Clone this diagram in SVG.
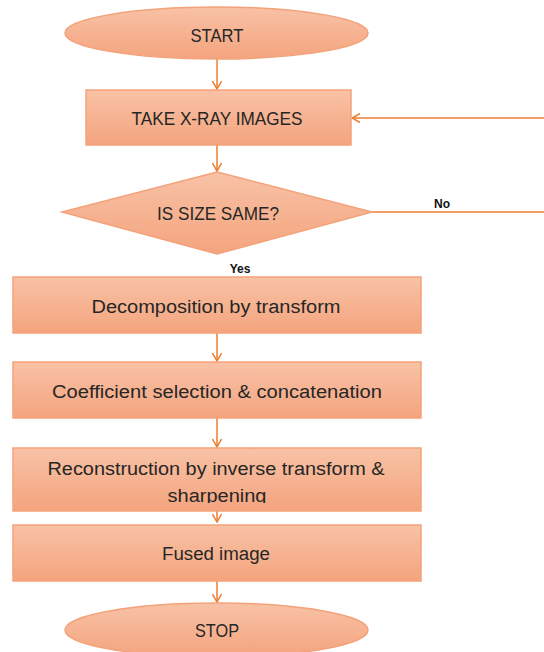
<svg xmlns="http://www.w3.org/2000/svg" width="544" height="652" viewBox="0 0 544 652">
<defs>
<linearGradient id="g" x1="0" y1="0" x2="0" y2="1">
<stop offset="0" stop-color="#F8C2A6"/>
<stop offset="1" stop-color="#F4A47E"/>
</linearGradient>
<marker id="ah" markerWidth="10" markerHeight="10" refX="9" refY="5" orient="auto" markerUnits="userSpaceOnUse">
<path d="M1,0.5 L9,5 L1,9.5" fill="none" stroke="#ED7D31" stroke-width="1.5"/>
</marker>
<clipPath id="c3"><rect x="13" y="448" width="408" height="55"/></clipPath>
</defs>
<style>
.n{fill:url(#g);stroke:#F3A27A;stroke-width:1.5}
.t{font-family:"Liberation Sans",Arial,sans-serif;font-size:18px;fill:#262626;text-anchor:middle}
.l{font-family:"Liberation Sans",Arial,sans-serif;font-size:12px;font-weight:bold;fill:#111;text-anchor:middle}
.e{fill:none;stroke:#ED7D31;stroke-width:1.5}
</style>
<rect width="544" height="652" fill="#fff"/>
<g id="connectors">
<line class="e" x1="217" y1="59" x2="217" y2="89" marker-end="url(#ah)"/>
<line class="e" x1="217" y1="145" x2="217" y2="171" marker-end="url(#ah)"/>
<line class="e" x1="372" y1="212" x2="544" y2="212"/>
<line class="e" x1="544" y1="118" x2="352" y2="118" marker-end="url(#ah)"/>
<line class="e" x1="217" y1="333" x2="217" y2="361" marker-end="url(#ah)"/>
<line class="e" x1="217" y1="418" x2="217" y2="447" marker-end="url(#ah)"/>
<line class="e" x1="217" y1="511" x2="217" y2="522" marker-end="url(#ah)"/>
<line class="e" x1="217" y1="581" x2="217" y2="602" marker-end="url(#ah)"/>
<text class="l" x="442" y="208">No</text>
<text class="l" x="240" y="273">Yes</text>
</g>
<g id="start">
<ellipse class="n" cx="216.5" cy="33" rx="151.5" ry="26"/>
<text class="t" x="217" y="42" textLength="53" lengthAdjust="spacingAndGlyphs">START</text>
</g>
<g id="take">
<rect class="n" x="86" y="90" width="265" height="55"/>
<text class="t" x="217" y="125" textLength="171" lengthAdjust="spacingAndGlyphs">TAKE X-RAY IMAGES</text>
</g>
<g id="decision">
<polygon class="n" points="217,172 372,212 217,254 62,212"/>
<text class="t" x="218" y="220" textLength="122" lengthAdjust="spacingAndGlyphs">IS SIZE SAME?</text>
</g>
<g id="decomp">
<rect class="n" x="13" y="277" width="408" height="56"/>
<text class="t" x="216" y="313" textLength="249" lengthAdjust="spacingAndGlyphs">Decomposition by transform</text>
</g>
<g id="coef">
<rect class="n" x="13" y="362" width="408" height="56"/>
<text class="t" x="217" y="398" textLength="330" lengthAdjust="spacingAndGlyphs">Coefficient selection &amp; concatenation</text>
</g>
<g id="recon">
<rect class="n" x="13" y="448" width="408" height="63"/>
<g clip-path="url(#c3)">
<text class="t" x="216" y="475" textLength="337" lengthAdjust="spacingAndGlyphs">Reconstruction by inverse transform &amp;</text>
<text class="t" x="217" y="502" textLength="99" lengthAdjust="spacingAndGlyphs">sharpening</text>
</g>
</g>
<g id="fused">
<rect class="n" x="13" y="525" width="408" height="56"/>
<text class="t" x="216" y="560" textLength="108" lengthAdjust="spacingAndGlyphs">Fused image</text>
</g>
<g id="stop">
<ellipse class="n" cx="216.5" cy="630" rx="151.5" ry="27"/>
<text class="t" x="217" y="637" textLength="44" lengthAdjust="spacingAndGlyphs">STOP</text>
</g>
</svg>
